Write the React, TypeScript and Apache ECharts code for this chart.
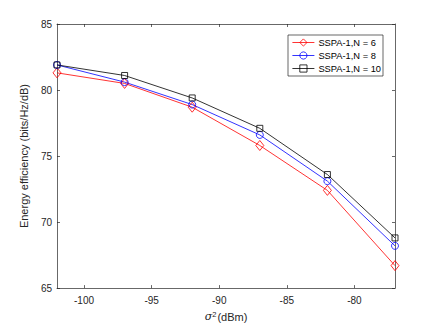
import React, { useEffect, useRef } from "react";
import * as echarts from "echarts";

const xValues = [-102, -97, -92, -87, -82, -77];
const seriesN6 = [81.3, 80.5, 78.7, 75.8, 72.4, 66.7];
const seriesN8 = [81.9, 80.6, 78.9, 76.6, 73.1, 68.2];
const seriesN10 = [81.9, 81.1, 79.4, 77.1, 73.6, 68.8];
const seriesNames = ["SSPA-1,N = 6", "SSPA-1,N = 8", "SSPA-1,N = 10"];
const seriesColors = ["#ff0000", "#0000ff", "#000000"];
const xTicks = [-100, -95, -90, -85, -80];
const yTicks = [65, 70, 75, 80, 85];

const AX = "#262626";
const FONT = "'Liberation Sans', Arial, Helvetica, sans-serif";
const CLEAR = "rgba(255,255,255,0)";

export default function App() {
  const ref = useRef<HTMLDivElement>(null);
  useEffect(() => {
    if (!ref.current) return;
    const chart = echarts.init(ref.current, undefined, { renderer: "svg" });
    const axisCommon = {
      axisLine: { show: true, onZero: false, lineStyle: { color: AX, width: 0.7 } },
      splitLine: { show: false },
    };
    const tick = (vals: number[]) => ({
      show: true,
      inside: true,
      length: 3,
      customValues: vals,
      lineStyle: { color: AX, width: 0.7 },
    });
    const mk = (vals: number[]) => xValues.map((x, i) => [x, vals[i]]);
    const line = (i: number, vals: number[], symbol: string, size: any) => ({
      name: seriesNames[i],
      type: "line",
      data: mk(vals),
      symbol,
      symbolSize: size,
      itemStyle: { color: CLEAR, borderColor: seriesColors[i], borderWidth: 0.8 },
      lineStyle: { color: seriesColors[i], width: 0.8 },
      emphasis: { disabled: true },
    });
    chart.setOption({
      animation: false,
      backgroundColor: "#ffffff",
      textStyle: { fontFamily: FONT },
      grid: { left: 57, right: 41, top: 24, bottom: 36, containLabel: false },
      legend: {
        orient: "vertical",
        left: 288,
        top: 35,
        data: seriesNames.map((name, i) => ({
          name,
          itemStyle: { color: CLEAR, borderColor: seriesColors[i], borderWidth: 0.8 },
          lineStyle: { color: seriesColors[i], width: 0.8 },
        })),
        itemWidth: 22,
        itemHeight: 9,
        itemGap: 4,
        padding: [3, 2, 3, 4],
        backgroundColor: "#ffffff",
        borderColor: AX,
        borderWidth: 0.7,
        borderRadius: 0,
        textStyle: { fontSize: 9.3, color: "#000", fontFamily: FONT, padding: [0, 0, 0, -1] },
      },
      xAxis: [
        {
          type: "value",
          min: -102,
          max: -77,
          position: "bottom",
          ...axisCommon,
          axisTick: tick(xTicks),
          axisLabel: { show: true, customValues: xTicks, color: AX, fontSize: 10, margin: 7, fontFamily: FONT },
          name: "{s|σ}{sup|2}{t|(dBm)}",
          nameLocation: "middle",
          nameGap: 21,
          nameTextStyle: {
            color: AX,
            fontSize: 11,
            fontFamily: FONT,
            rich: {
              s: { fontStyle: "italic", fontSize: 11, fontFamily: "'DejaVu Serif', serif", color: AX },
              sup: { fontSize: 7.5, verticalAlign: "top", color: AX, padding: [0, 1, 5, 0] },
              t: { fontSize: 11, color: AX },
            },
          },
        },
        {
          type: "value",
          min: -102,
          max: -77,
          position: "top",
          ...axisCommon,
          axisTick: tick(xTicks),
          axisLabel: { show: false },
        },
      ],
      yAxis: [
        {
          type: "value",
          min: 65,
          max: 85,
          interval: 5,
          position: "left",
          ...axisCommon,
          axisTick: tick(yTicks),
          axisLabel: { show: true, color: AX, fontSize: 10, margin: 5, customValues: yTicks, fontFamily: FONT },
          name: "Energy efficiency (bits/Hz/dB)",
          nameLocation: "middle",
          nameGap: 19,
          nameTextStyle: { color: AX, fontSize: 11, fontFamily: FONT },
        },
        {
          type: "value",
          min: 65,
          max: 85,
          interval: 5,
          position: "right",
          ...axisCommon,
          axisTick: tick(yTicks),
          axisLabel: { show: false },
        },
      ],
      series: [
        line(0, seriesN6, "diamond", [8, 10]),
        line(1, seriesN8, "circle", 7),
        line(2, seriesN10, "rect", 6),
      ],
    });
    return () => chart.dispose();
  }, []);
  return (
    <div
      ref={ref}
      style={{ position: "fixed", left: 0, top: 0, width: 436, height: 327 }}
    />
  );
}
